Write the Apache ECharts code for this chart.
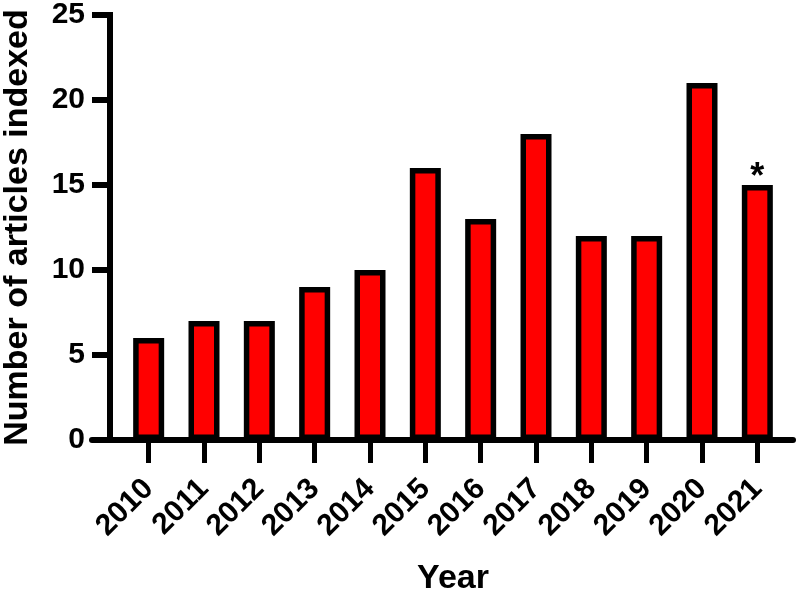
<!DOCTYPE html>
<html>
<head>
<meta charset="utf-8">
<script src="https://cdn.jsdelivr.net/npm/echarts@6/dist/echarts.min.js"></script>
<style>html,body{margin:0;padding:0;background:#fff;}#c{width:800px;height:595px;}</style>
</head>
<body>
<div id="c"></div>
<script>
const years = ['2010','2011','2012','2013','2014','2015','2016','2017','2018','2019','2020','2021'];
const articles = [6, 7, 7, 9, 10, 16, 13, 18, 12, 12, 21, 15];
const markedYear = '2021';
const markText = '*';
const yTicks = [0, 5, 10, 15, 20, 25];

const FONT = '"Liberation Sans", Arial, Helvetica, sans-serif';
const chart = echarts.init(document.getElementById('c'), null, {renderer: 'canvas'});

const barData = articles.map((v, i) => years[i] === markedYear ? {
  value: v,
  label: {show: true, formatter: markText, position: 'top', distance: -11,
          fontSize: 36, fontWeight: 'bold', color: '#000', fontFamily: FONT}
} : v);

chart.setOption({
  animation: false,
  backgroundColor: '#fff',
  grid: [
    {left: 121, right: 15, top: 15, bottom: 155, containLabel: false, outerBoundsMode: 'none'},
    {left: 92, right: 7, top: 15, bottom: 155, containLabel: false, outerBoundsMode: 'none'}
  ],
  xAxis: [
    {
      type: 'category', gridIndex: 0, data: years,
      name: 'Year', nameLocation: 'middle', nameGap: 122,
      nameTextStyle: {fontSize: 34, fontWeight: 'bold', color: '#000', fontFamily: FONT},
      axisLine: {show: false},
      axisTick: {show: true, alignWithLabel: true, length: 23, lineStyle: {color: '#000', width: 5}},
      axisLabel: {rotate: 45, margin: 44, fontSize: 30, fontWeight: 'bold', color: '#000', fontFamily: FONT, interval: 0},
      splitLine: {show: false}
    },
    {
      type: 'value', gridIndex: 1, min: 0, max: 1,
      axisLine: {show: true, onZero: false, lineStyle: {color: '#000', width: 6}},
      axisTick: {show: false}, axisLabel: {show: false}, splitLine: {show: false}
    }
  ],
  yAxis: [
    {
      type: 'value', gridIndex: 0, min: yTicks[0], max: yTicks[yTicks.length - 1], interval: 5,
      offset: 11,
      name: 'Number of articles indexed', nameLocation: 'middle', nameGap: 75,
      nameTextStyle: {fontSize: 34, fontWeight: 'bold', color: '#000', fontFamily: FONT},
      axisLine: {show: true, lineStyle: {color: '#000', width: 6, cap: 'square'}},
      axisTick: {show: true, length: 18, lineStyle: {color: '#000', width: 6}},
      axisLabel: {margin: 25, fontSize: 30, fontWeight: 'bold', color: '#000', fontFamily: FONT},
      splitLine: {show: false}
    },
    {
      type: 'value', gridIndex: 1, min: 0, max: 1, show: false
    }
  ],
  series: [{
    type: 'bar', xAxisIndex: 0, yAxisIndex: 0,
    data: barData,
    barWidth: 31,
    itemStyle: {color: '#ff0000', borderColor: '#000', borderWidth: 5.5},
    z: 1
  }]
});
</script>
</body>
</html>
